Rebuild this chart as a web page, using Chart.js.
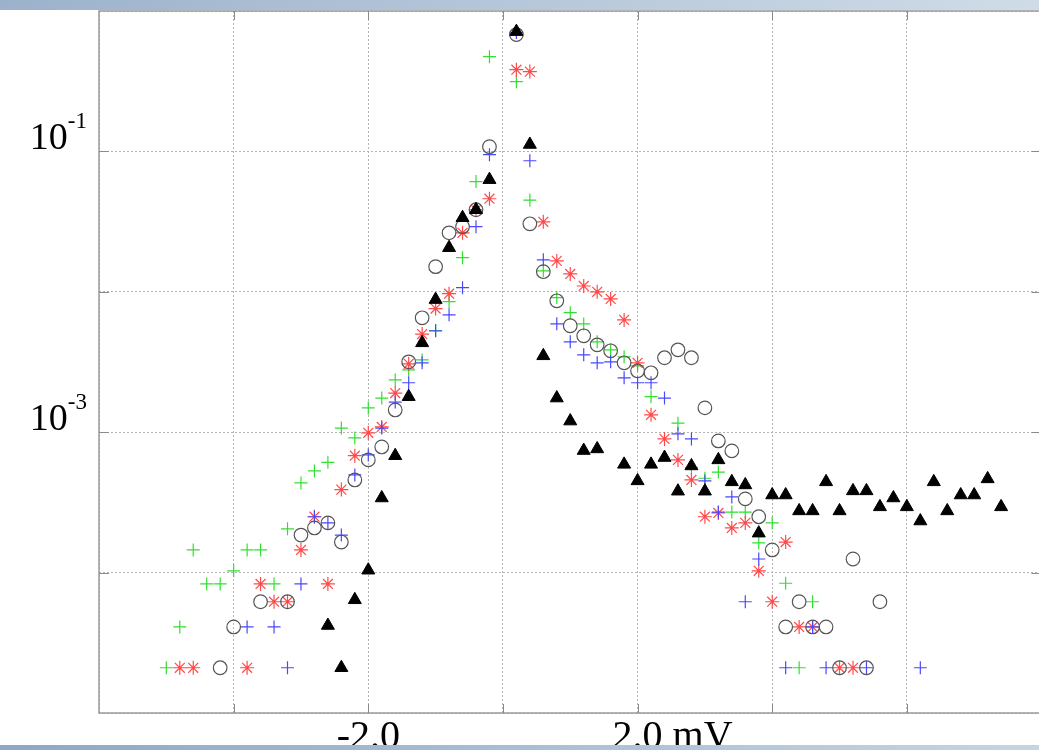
<!DOCTYPE html>
<html><head><meta charset="utf-8">
<script src="https://cdn.jsdelivr.net/npm/chart.js@4"></script>
<style>
html,body{margin:0;padding:0;background:#fff;overflow:hidden;width:1039px;height:750px}
#wrap{position:relative;width:1039px;height:750px;overflow:hidden;background:#fff}
#c{position:absolute;left:0;top:0}
#topbar{position:absolute;left:0;top:0;width:1039px;height:10px;background:linear-gradient(to right,#9cb2cc,#cfdce8);z-index:2}
#botbar{position:absolute;left:0;top:745px;width:1039px;height:5px;background:linear-gradient(to right,#8ea8c4,#c6d4e2);z-index:2}
</style></head>
<body><div id="wrap"><canvas id="c" width="1050" height="750"></canvas><div id="topbar"></div><div id="botbar"></div></div>
<script>
// ---- data (x in mV, y = normalised frequency) ----
const greenX = [-5.0,-4.8,-4.6,-4.4,-4.2,-4.0,-3.8,-3.6,-3.4,-3.2,-3.0,-2.8,-2.6,-2.4,-2.2,-2.0,-1.8,-1.6,-1.4,-1.2,-1.0,-0.8,-0.6,-0.4,-0.2,0.2,0.4,0.6,0.8,1.0,1.2,1.4,1.6,1.8,2.0,2.2,2.6,2.8,3.0,3.2,3.4,3.6,3.8,4.0,4.2,4.4,4.6];
const greenY = [2.1e-5,4.1e-5,1.45e-4,8.3e-5,8.3e-5,1.03e-4,1.45e-4,1.45e-4,8.3e-5,2.05e-4,4.35e-4,5.3e-4,6.1e-4,1.07e-3,9.1e-4,1.49e-3,1.75e-3,2.36e-3,2.78e-3,3.27e-3,5.3e-3,8.5e-3,1.75e-2,6.1e-2,0.473,0.314,4.5e-2,1.41e-2,9.1e-3,7.1e-3,5.9e-3,4.4e-3,3.86e-3,3.44e-3,2.97e-3,1.79e-3,1.16e-3,5.6e-4,4.7e-4,5.2e-4,2.7e-4,2.7e-4,1.63e-4,2.26e-4,8.4e-5,2.1e-5,6.2e-5];

const redX = [-4.8,-4.6,-3.8,-3.6,-3.4,-3.2,-3.0,-2.8,-2.6,-2.4,-2.2,-2.0,-1.8,-1.6,-1.4,-1.2,-1.0,-0.8,-0.6,-0.4,-0.2,0.2,0.4,0.6,0.8,1.0,1.2,1.4,1.6,1.8,2.0,2.2,2.4,2.6,2.8,3.0,3.2,3.4,3.6,3.8,4.0,4.2,4.4,4.6,5.0,5.2];
const redY = [2.1e-5,2.1e-5,2.1e-5,8.3e-5,6.2e-5,6.2e-5,1.45e-4,2.5e-4,8.3e-5,3.9e-4,6.8e-4,9.9e-4,1.09e-3,1.9e-3,3.07e-3,5.0e-3,7.6e-3,9.7e-3,2.63e-2,3.84e-2,4.6e-2,0.382,0.370,3.15e-2,1.66e-2,1.34e-2,1.10e-2,1.0e-2,8.9e-3,6.31e-3,3.12e-3,1.33e-3,8.96e-4,6.35e-4,4.57e-4,2.5e-4,2.66e-4,2.08e-4,2.26e-4,1.03e-4,6.2e-5,1.65e-4,4.1e-5,4.1e-5,2.1e-5,2.1e-5];

const blueX = [-3.8,-3.4,-3.2,-3.0,-2.8,-2.6,-2.4,-2.2,-2.0,-1.8,-1.6,-1.4,-1.2,-1.0,-0.8,-0.6,-0.4,-0.2,0.2,0.4,0.6,0.8,1.0,1.2,1.4,1.6,1.8,2.0,2.2,2.4,2.6,2.8,3.0,3.2,3.4,3.6,3.8,4.2,4.6,4.8,5.4,6.2];
const blueY = [4.1e-5,4.1e-5,2.1e-5,8.3e-5,2.5e-4,2.26e-4,1.85e-4,4.96e-4,6.89e-4,1.07e-3,1.64e-3,2.25e-3,3.12e-3,5.27e-3,6.86e-3,1.07e-2,2.91e-2,9.47e-2,0.702,8.58e-2,1.69e-2,5.91e-3,4.40e-3,3.56e-3,3.12e-3,3.17e-3,2.44e-3,2.25e-3,2.25e-3,1.75e-3,9.73e-4,8.96e-4,4.5e-4,2.7e-4,3.46e-4,6.2e-5,1.25e-4,2.1e-5,4.1e-5,2.1e-5,2.1e-5,2.1e-5];

const circleX = [-4.2,-4.0,-3.6,-3.2,-3.0,-2.8,-2.6,-2.4,-2.2,-2.0,-1.8,-1.6,-1.4,-1.2,-1.0,-0.8,-0.6,-0.4,-0.2,0.2,0.4,0.6,0.8,1.0,1.2,1.4,1.6,1.8,2.0,2.2,2.4,2.6,2.8,3.0,3.2,3.4,3.6,3.8,4.0,4.2,4.4,4.6,4.8,5.0,5.2,5.4,5.6];
const circleY = [2.1e-5,4.1e-5,6.2e-5,6.2e-5,1.85e-4,2.08e-4,2.26e-4,1.65e-4,4.57e-4,6.35e-4,7.85e-4,1.44e-3,3.17e-3,6.53e-3,1.51e-2,2.63e-2,2.91e-2,3.84e-2,0.108,0.679,3.05e-2,1.39e-2,8.63e-3,5.73e-3,4.86e-3,4.19e-3,3.8e-3,3.12e-3,2.73e-3,2.65e-3,3.39e-3,3.86e-3,3.39e-3,1.49e-3,8.67e-4,7.36e-4,3.35e-4,2.5e-4,1.45e-4,4.1e-5,6.2e-5,4.1e-5,4.1e-5,2.1e-5,1.25e-4,2.1e-5,6.2e-5];

const triX = [-2.6,-2.4,-2.2,-2.0,-1.8,-1.6,-1.4,-1.2,-1.0,-0.8,-0.6,-0.4,-0.2,0.2,0.4,0.6,0.8,1.0,1.2,1.4,1.8,2.0,2.2,2.4,2.6,2.8,3.0,3.2,3.4,3.6,3.8,4.0,4.2,4.4,4.6,4.8,5.0,5.2,5.4,5.6,5.8,6.0,6.2,6.4,6.6,6.8,7.0,7.2,7.4];
const triY = [4.2e-5,2.1e-5,6.4e-5,1.04e-4,3.4e-4,6.8e-4,1.79e-3,4.33e-3,8.8e-3,2.06e-2,3.37e-2,3.84e-2,6.29e-2,0.713,0.112,3.5e-3,1.75e-3,1.2e-3,7.4e-4,7.6e-4,5.9e-4,4.5e-4,5.9e-4,6.6e-4,3.8e-4,5.75e-4,3.8e-4,6.35e-4,4.43e-4,4.21e-4,1.91e-4,3.57e-4,3.57e-4,2.75e-4,2.75e-4,4.43e-4,2.75e-4,3.82e-4,3.82e-4,2.94e-4,3.4e-4,2.94e-4,2.33e-4,4.43e-4,2.75e-4,3.57e-4,3.57e-4,4.65e-4,2.94e-4];

// ---- axes / labels ----
const xMin = -6, xMax = 8, xStep = 2;
const yGridValues = [1e-5,1e-4,1e-3,1e-2,1e-1,1];
const yLabelValues = [1e-1, 1e-3];
const yLabelBase = ['10','10'];
const yLabelExp = ['-1','-3'];
const xLabelValues = [-2, 2];
const xLabelTexts = ['-2.0', '2.0'];
const xLabelSuffix = ['', ' mV'];

const pts = (xs, ys) => xs.map((x, i) => ({x: x, y: ys[i]}));

const framePlugin = {
  id: 'frame',
  afterDraw(chart) {
    const {ctx, chartArea: a, scales: {x, y}} = chart;
    ctx.save();
    // frame
    ctx.strokeStyle = '#9a9a9a';
    ctx.lineWidth = 1.5;
    ctx.strokeRect(a.left, a.top, a.right - a.left, a.bottom - a.top);
    // tick marks
    ctx.strokeStyle = '#8a8a8a';
    ctx.lineWidth = 1;
    ctx.beginPath();
    for (let v = xMin + xStep; v < xMax; v += xStep) {
      const px = Math.round(x.getPixelForValue(v)) + 0.5;
      ctx.moveTo(px, a.top); ctx.lineTo(px, a.top + 9);
      ctx.moveTo(px, a.bottom); ctx.lineTo(px, a.bottom - 9);
    }
    yGridValues.slice(1, -1).forEach(v => {
      const py = Math.round(y.getPixelForValue(v)) + 0.5;
      ctx.moveTo(a.left, py); ctx.lineTo(a.left + 10, py);
      ctx.moveTo(a.right, py); ctx.lineTo(a.right - 10, py);
    });
    ctx.stroke();
    // y labels
    ctx.fillStyle = '#000';
    ctx.textBaseline = 'alphabetic';
    ctx.textAlign = 'left';
    yLabelValues.forEach((v, i) => {
      const py = y.getPixelForValue(v);
      const right = a.left - 12;
      ctx.font = '23px "Liberation Serif"';
      const ew = ctx.measureText(yLabelExp[i]).width;
      ctx.font = '38px "Liberation Serif"';
      const bw = ctx.measureText(yLabelBase[i]).width;
      ctx.fillText(yLabelBase[i], right - ew - bw, py - 2);
      ctx.font = '23px "Liberation Serif"';
      ctx.fillText(yLabelExp[i], right - ew, py - 23);
    });
    // x labels
    ctx.font = '40px "Liberation Serif"';
    xLabelValues.forEach((v, i) => {
      const px = x.getPixelForValue(v);
      const w = ctx.measureText(xLabelTexts[i]).width;
      ctx.fillText(xLabelTexts[i] + xLabelSuffix[i], px - w / 2, a.bottom + 35);
    });
    ctx.restore();
  }
};

new Chart(document.getElementById('c'), {
  type: 'scatter',
  data: {
    datasets: [
      {label: 'triangle', data: pts(triX, triY), pointStyle: 'triangle', pointRadius: 7.5, backgroundColor: '#000', borderColor: '#000', borderWidth: 1},
      {label: 'circle', data: pts(circleX, circleY), pointStyle: 'circle', pointRadius: 6.8, backgroundColor: 'rgba(0,0,0,0)', borderColor: '#555', borderWidth: 1.2},
      {label: 'blue', data: pts(blueX, blueY), pointStyle: 'cross', pointRadius: 6.5, backgroundColor: '#4848ff', borderColor: '#4848ff', borderWidth: 1.2},
      {label: 'red', data: pts(redX, redY), pointStyle: 'star', pointRadius: 7, backgroundColor: '#ff4a4a', borderColor: '#ff4a4a', borderWidth: 1.2},
      {label: 'green', data: pts(greenX, greenY), pointStyle: 'cross', pointRadius: 6.5, backgroundColor: '#30e030', borderColor: '#30e030', borderWidth: 1.2}
    ]
  },
  options: {
    responsive: false,
    animation: false,
    events: [],
    layout: {padding: {left: 99, top: 11, right: 6, bottom: 37}},
    plugins: {legend: {display: false}, tooltip: {enabled: false}},
    scales: {
      x: {
        type: 'linear', min: xMin, max: xMax,
        ticks: {display: false, stepSize: xStep},
        grid: {drawTicks: false, color: '#b4b4b4', lineWidth: 1},
        border: {display: false, dash: [2, 2]}
      },
      y: {
        type: 'logarithmic', min: 1e-5, max: 1,
        afterBuildTicks: s => { s.ticks = yGridValues.map(v => ({value: v})); },
        ticks: {display: false},
        grid: {drawTicks: false, color: '#b4b4b4', lineWidth: 1},
        border: {display: false, dash: [2, 2]}
      }
    }
  },
  plugins: [framePlugin]
});
</script>
</body></html>
